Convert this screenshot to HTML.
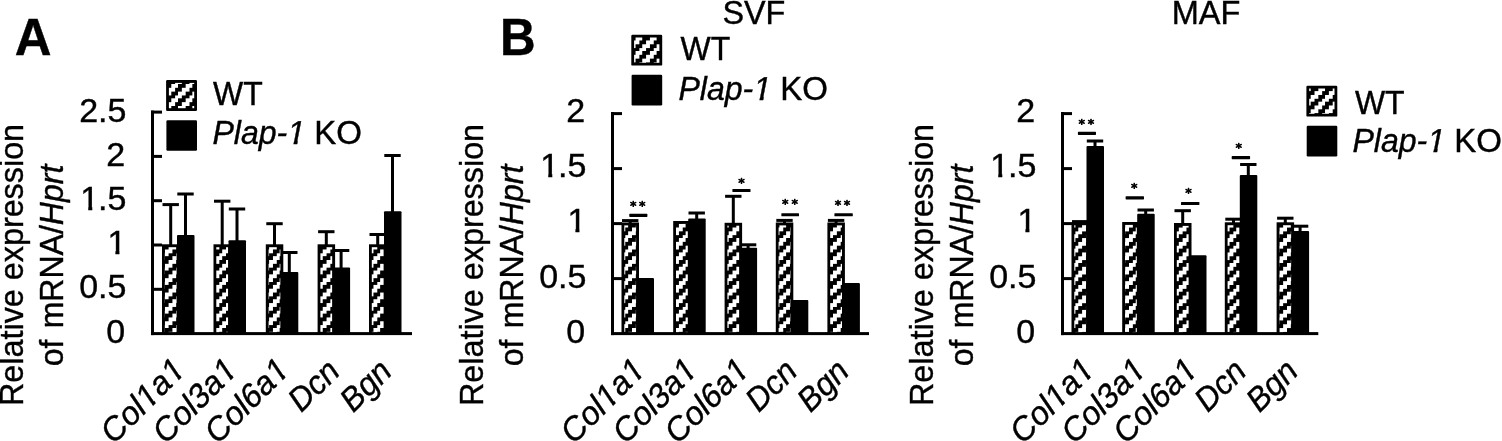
<!DOCTYPE html>
<html lang="en"><head><meta charset="utf-8"><title>Figure</title>
<style>
html,body{margin:0;padding:0;background:#fff;}
body{width:1502px;height:441px;overflow:hidden;}
svg{display:block;}
text{font-family:"Liberation Sans",Arial,Helvetica,sans-serif;fill:#000;stroke:#000;stroke-width:0.4px;}
text.st{font-family:"DejaVu Sans","Liberation Sans",sans-serif;stroke-width:0.75px;stroke-linejoin:round;}
</style></head><body>
<svg width="1502" height="441" viewBox="0 0 1502 441">
<defs>
<pattern id="hatch" patternUnits="userSpaceOnUse" width="14.36" height="14.36" x="10.63" y="1.52">
<rect width="14.36" height="14.36" fill="#000"/>
<g fill="#fff" shape-rendering="crispEdges">
<rect x="0" y="0" width="7.18" height="3.59"/>
<rect x="10.77" y="3.59" width="3.59" height="3.59"/><rect x="0" y="3.59" width="3.59" height="3.59"/>
<rect x="7.18" y="7.18" width="7.18" height="3.59"/>
<rect x="3.59" y="10.77" width="7.18" height="3.59"/>
</g>
</pattern>
<pattern id="hatchS" patternUnits="userSpaceOnUse" width="14.36" height="14.36" x="0.15" y="12.09">
<rect width="14.36" height="14.36" fill="#000"/>
<g fill="#fff" shape-rendering="crispEdges">
<rect x="0" y="0" width="7.18" height="3.59"/>
<rect x="10.77" y="3.59" width="3.59" height="3.59"/><rect x="0" y="3.59" width="3.59" height="3.59"/>
<rect x="7.18" y="7.18" width="7.18" height="3.59"/>
<rect x="3.59" y="10.77" width="7.18" height="3.59"/>
</g>
</pattern>
<pattern id="hatchM" patternUnits="userSpaceOnUse" width="14.36" height="14.36" x="5.11" y="8.34">
<rect width="14.36" height="14.36" fill="#000"/>
<g fill="#fff" shape-rendering="crispEdges">
<rect x="0" y="0" width="7.18" height="3.59"/>
<rect x="10.77" y="3.59" width="3.59" height="3.59"/><rect x="0" y="3.59" width="3.59" height="3.59"/>
<rect x="7.18" y="7.18" width="7.18" height="3.59"/>
<rect x="3.59" y="10.77" width="7.18" height="3.59"/>
</g>
</pattern>
<pattern id="hatchLA" patternUnits="userSpaceOnUse" width="14.36" height="14.36" x="9.51" y="1.64">
<rect width="14.36" height="14.36" fill="#000"/>
<g fill="#fff" shape-rendering="crispEdges">
<rect x="0" y="0" width="7.18" height="3.59"/>
<rect x="10.77" y="3.59" width="3.59" height="3.59"/><rect x="0" y="3.59" width="3.59" height="3.59"/>
<rect x="7.18" y="7.18" width="7.18" height="3.59"/>
<rect x="3.59" y="10.77" width="7.18" height="3.59"/>
</g>
</pattern>
<pattern id="hatchLS" patternUnits="userSpaceOnUse" width="14.36" height="14.36" x="14.24" y="11.73">
<rect width="14.36" height="14.36" fill="#000"/>
<g fill="#fff" shape-rendering="crispEdges">
<rect x="0" y="0" width="7.18" height="3.59"/>
<rect x="10.77" y="3.59" width="3.59" height="3.59"/><rect x="0" y="3.59" width="3.59" height="3.59"/>
<rect x="7.18" y="7.18" width="7.18" height="3.59"/>
<rect x="3.59" y="10.77" width="7.18" height="3.59"/>
</g>
</pattern>
<pattern id="hatchLM" patternUnits="userSpaceOnUse" width="14.36" height="14.36" x="7.75" y="4.96">
<rect width="14.36" height="14.36" fill="#000"/>
<g fill="#fff" shape-rendering="crispEdges">
<rect x="0" y="0" width="7.18" height="3.59"/>
<rect x="10.77" y="3.59" width="3.59" height="3.59"/><rect x="0" y="3.59" width="3.59" height="3.59"/>
<rect x="7.18" y="7.18" width="7.18" height="3.59"/>
<rect x="3.59" y="10.77" width="7.18" height="3.59"/>
</g>
</pattern>
<clipPath id="one" clipPathUnits="userSpaceOnUse"><path d="M-4 -40H30V-3.54H12.05V2H8.05V-3.54H-4Z"/></clipPath>
</defs>
<rect width="1502" height="441" fill="#fff"/>

<text transform="translate(14.70 55.00) scale(0.99 1)" font-size="51.4" font-weight="bold">A</text>
<text transform="translate(499.90 55.00) scale(0.96 1)" font-size="51.4" font-weight="bold">B</text>
<text transform="translate(753.90 24.00) scale(0.98 1)" font-size="33" text-anchor="middle">SVF</text>
<text transform="translate(1206.10 24.20) scale(0.985 1)" font-size="33" text-anchor="middle">MAF</text>
<rect x="151.00" y="110.60" width="3.00" height="224.50" fill="#000"/>
<rect x="151.00" y="332.10" width="261.00" height="3.00" fill="#000"/>
<g transform="translate(125.20 342.55)"><text transform="translate(-18.92 0)" font-size="34">0</text></g>
<rect x="151.00" y="287.80" width="11.00" height="3.00" fill="#000"/>
<g transform="translate(126.40 298.47)"><text transform="translate(-47.27 0)" font-size="34">0.5</text></g>
<rect x="151.00" y="243.50" width="11.00" height="3.00" fill="#000"/>
<g transform="translate(125.20 254.39)"><text transform="translate(-17.82 0)" font-size="34" clip-path="url(#one)">1</text></g>
<rect x="151.00" y="199.20" width="11.00" height="3.00" fill="#000"/>
<g transform="translate(126.40 210.31)"><text transform="translate(-46.18 0)" font-size="34" clip-path="url(#one)">1</text><text transform="translate(-28.36 0)" font-size="34">.5</text></g>
<rect x="151.00" y="154.90" width="11.00" height="3.00" fill="#000"/>
<g transform="translate(125.20 166.23)"><text transform="translate(-18.92 0)" font-size="34">2</text></g>
<rect x="151.00" y="110.60" width="11.00" height="3.00" fill="#000"/>
<g transform="translate(126.40 122.15)"><text transform="translate(-47.27 0)" font-size="34">2.5</text></g>
<text transform="translate(23.40 406.00) rotate(-90) scale(0.98 1)" font-size="33">Relative expression</text>
<text transform="translate(62.60 366.20) rotate(-90) scale(0.97 1)" font-size="33"><tspan word-spacing="2.4">of mRNA/</tspan><tspan font-style="italic">Hprt</tspan></text>
<rect x="169.20" y="204.60" width="3.00" height="40.70" fill="#000"/>
<rect x="162.50" y="203.10" width="16.40" height="3.00" fill="#000"/>
<rect x="184.00" y="194.00" width="3.00" height="42.00" fill="#000"/>
<rect x="177.30" y="192.50" width="16.40" height="3.00" fill="#000"/>
<rect x="162.00" y="244.30" width="17.50" height="89.30" fill="#000"/>
<rect x="164.80" y="247.20" width="11.80" height="84.90" fill="url(#hatch)"/>
<rect x="177.00" y="235.00" width="17.50" height="98.60" fill="#000" rx="1"/>
<rect x="220.70" y="201.20" width="3.00" height="44.10" fill="#000"/>
<rect x="214.00" y="199.70" width="16.40" height="3.00" fill="#000"/>
<rect x="235.50" y="209.00" width="3.00" height="32.20" fill="#000"/>
<rect x="228.80" y="207.50" width="16.40" height="3.00" fill="#000"/>
<rect x="213.50" y="244.30" width="17.50" height="89.30" fill="#000"/>
<rect x="216.30" y="247.20" width="11.80" height="84.90" fill="url(#hatch)"/>
<rect x="228.50" y="240.20" width="17.50" height="93.40" fill="#000" rx="1"/>
<rect x="273.00" y="223.70" width="3.00" height="21.60" fill="#000"/>
<rect x="266.30" y="222.20" width="16.40" height="3.00" fill="#000"/>
<rect x="287.80" y="252.50" width="3.00" height="20.50" fill="#000"/>
<rect x="281.10" y="251.00" width="16.40" height="3.00" fill="#000"/>
<rect x="265.80" y="244.30" width="17.50" height="89.30" fill="#000"/>
<rect x="268.60" y="247.20" width="11.80" height="84.90" fill="url(#hatch)"/>
<rect x="280.80" y="272.00" width="17.50" height="61.60" fill="#000" rx="1"/>
<rect x="324.80" y="231.70" width="3.00" height="13.60" fill="#000"/>
<rect x="318.10" y="230.20" width="16.40" height="3.00" fill="#000"/>
<rect x="339.60" y="250.50" width="3.00" height="18.00" fill="#000"/>
<rect x="332.90" y="249.00" width="16.40" height="3.00" fill="#000"/>
<rect x="317.60" y="244.30" width="17.50" height="89.30" fill="#000"/>
<rect x="320.40" y="247.20" width="11.80" height="84.90" fill="url(#hatch)"/>
<rect x="332.60" y="267.50" width="17.50" height="66.10" fill="#000" rx="1"/>
<rect x="376.20" y="234.50" width="3.00" height="10.80" fill="#000"/>
<rect x="369.50" y="233.00" width="16.40" height="3.00" fill="#000"/>
<rect x="391.00" y="155.50" width="3.00" height="56.80" fill="#000"/>
<rect x="384.30" y="154.00" width="16.40" height="3.00" fill="#000"/>
<rect x="369.00" y="244.30" width="17.50" height="89.30" fill="#000"/>
<rect x="371.80" y="247.20" width="11.80" height="84.90" fill="url(#hatch)"/>
<rect x="384.00" y="211.30" width="17.50" height="122.30" fill="#000" rx="1"/>
<g transform="translate(187.00 371.70) rotate(-45)"><text transform="translate(-103.56 0) scale(0.99 1)" font-size="33" font-style="italic">Col</text><text transform="translate(-56.13 0) skewX(-11) scale(0.99 1)" font-size="33" clip-path="url(#one)">1</text><text transform="translate(-36.35 0) scale(0.99 1)" font-size="33" font-style="italic">a</text><text transform="translate(-19.78 0) skewX(-11) scale(0.99 1)" font-size="33" clip-path="url(#one)">1</text></g>
<g transform="translate(239.00 371.70) rotate(-45)"><text transform="translate(-103.56 0) scale(0.99 1)" font-size="33" font-style="italic">Col</text><text transform="translate(-56.13 0) skewX(-11) scale(0.99 1)" font-size="33">3</text><text transform="translate(-36.35 0) scale(0.99 1)" font-size="33" font-style="italic">a</text><text transform="translate(-19.78 0) skewX(-11) scale(0.99 1)" font-size="33" clip-path="url(#one)">1</text></g>
<g transform="translate(291.00 371.70) rotate(-45)"><text transform="translate(-103.56 0) scale(0.99 1)" font-size="33" font-style="italic">Col</text><text transform="translate(-56.13 0) skewX(-11) scale(0.99 1)" font-size="33">6</text><text transform="translate(-36.35 0) scale(0.99 1)" font-size="33" font-style="italic">a</text><text transform="translate(-19.78 0) skewX(-11) scale(0.99 1)" font-size="33" clip-path="url(#one)">1</text></g>
<g transform="translate(341.60 373.10) rotate(-45)"><text transform="translate(-56.93 0) scale(0.97 1)" font-size="33" font-style="italic">Dcn</text></g>
<g transform="translate(393.60 373.10) rotate(-45)"><text transform="translate(-56.96 0) scale(0.97 1)" font-size="33" font-style="italic">Bgn</text></g>
<rect x="166.10" y="80.10" width="30.90" height="30.90" fill="#000" rx="1.2"/>
<rect x="168.90" y="82.90" width="25.30" height="25.30" fill="url(#hatchLA)"/>
<rect x="166.40" y="120.20" width="30.60" height="30.60" fill="#000" rx="1.2"/>
<text transform="translate(213.00 104.60) scale(0.97 1)" font-size="33">WT</text>
<g transform="translate(212.50 144.00)"><text transform="translate(0.00 0) scale(0.97 1)" font-size="33" font-style="italic">Plap-</text><text transform="translate(73.13 0) skewX(-11) scale(0.97 1)" font-size="33" clip-path="url(#one)">1</text><text transform="translate(92.54 0)" font-size="33" style="white-space:pre"> KO</text></g>
<rect x="611.00" y="112.10" width="3.00" height="223.00" fill="#000"/>
<rect x="611.00" y="332.10" width="258.00" height="3.00" fill="#000"/>
<g transform="translate(585.20 342.55)"><text transform="translate(-18.92 0)" font-size="34">0</text></g>
<rect x="611.00" y="277.10" width="11.00" height="3.00" fill="#000"/>
<g transform="translate(586.40 287.50)"><text transform="translate(-47.27 0)" font-size="34">0.5</text></g>
<rect x="611.00" y="222.10" width="11.00" height="3.00" fill="#000"/>
<g transform="translate(585.20 232.45)"><text transform="translate(-17.82 0)" font-size="34" clip-path="url(#one)">1</text></g>
<rect x="611.00" y="167.10" width="11.00" height="3.00" fill="#000"/>
<g transform="translate(586.40 177.40)"><text transform="translate(-46.18 0)" font-size="34" clip-path="url(#one)">1</text><text transform="translate(-28.36 0)" font-size="34">.5</text></g>
<rect x="611.00" y="112.10" width="11.00" height="3.00" fill="#000"/>
<g transform="translate(585.20 122.35)"><text transform="translate(-18.92 0)" font-size="34">2</text></g>
<text transform="translate(483.40 406.00) rotate(-90) scale(0.98 1)" font-size="33">Relative expression</text>
<text transform="translate(522.60 366.20) rotate(-90) scale(0.97 1)" font-size="33"><tspan word-spacing="2.4">of mRNA/</tspan><tspan font-style="italic">Hprt</tspan></text>
<rect x="628.70" y="220.60" width="3.00" height="2.90" fill="#000"/>
<rect x="622.00" y="219.10" width="16.40" height="3.00" fill="#000"/>
<rect x="621.50" y="222.50" width="17.50" height="111.10" fill="#000"/>
<rect x="624.30" y="225.40" width="11.80" height="106.70" fill="url(#hatchS)"/>
<rect x="636.50" y="278.00" width="17.50" height="55.60" fill="#000" rx="1"/>
<rect x="629.30" y="213.80" width="18.10" height="3.10" fill="#000" rx="0.6"/>
<g font-size="13" text-anchor="middle"><text class="st" x="633.35" y="210.08">*</text><text class="st" x="642.30" y="210.08">*</text></g>
<rect x="695.20" y="213.00" width="3.00" height="6.60" fill="#000"/>
<rect x="688.50" y="211.50" width="16.40" height="3.00" fill="#000"/>
<rect x="673.20" y="221.00" width="17.50" height="112.60" fill="#000"/>
<rect x="676.00" y="223.90" width="11.80" height="108.20" fill="url(#hatchS)"/>
<rect x="688.20" y="218.60" width="17.50" height="115.00" fill="#000" rx="1"/>
<rect x="731.80" y="196.30" width="3.00" height="27.50" fill="#000"/>
<rect x="725.10" y="194.80" width="16.40" height="3.00" fill="#000"/>
<rect x="746.60" y="244.80" width="3.00" height="4.00" fill="#000"/>
<rect x="739.90" y="243.30" width="16.40" height="3.00" fill="#000"/>
<rect x="724.60" y="222.80" width="17.50" height="110.80" fill="#000"/>
<rect x="727.40" y="225.70" width="11.80" height="106.40" fill="url(#hatchS)"/>
<rect x="739.60" y="247.80" width="17.50" height="85.80" fill="#000" rx="1"/>
<rect x="732.40" y="189.00" width="18.10" height="3.10" fill="#000" rx="0.6"/>
<g font-size="13" text-anchor="middle"><text class="st" x="741.45" y="186.93">*</text></g>
<rect x="783.00" y="220.40" width="3.00" height="3.10" fill="#000"/>
<rect x="776.30" y="218.90" width="16.40" height="3.00" fill="#000"/>
<rect x="775.80" y="222.50" width="17.50" height="111.10" fill="#000"/>
<rect x="778.60" y="225.40" width="11.80" height="106.70" fill="url(#hatchS)"/>
<rect x="790.80" y="300.00" width="17.50" height="33.60" fill="#000" rx="1"/>
<rect x="781.35" y="213.15" width="17.65" height="3.10" fill="#000" rx="0.6"/>
<g font-size="13" text-anchor="middle"><text class="st" x="785.30" y="207.68">*</text><text class="st" x="794.65" y="207.68">*</text></g>
<rect x="834.60" y="220.40" width="3.00" height="3.10" fill="#000"/>
<rect x="827.90" y="218.90" width="16.40" height="3.00" fill="#000"/>
<rect x="827.40" y="222.50" width="17.50" height="111.10" fill="#000"/>
<rect x="830.20" y="225.40" width="11.80" height="106.70" fill="url(#hatchS)"/>
<rect x="842.40" y="283.00" width="17.50" height="50.60" fill="#000" rx="1"/>
<rect x="834.40" y="213.15" width="18.40" height="3.10" fill="#000" rx="0.6"/>
<g font-size="13" text-anchor="middle"><text class="st" x="838.00" y="209.28">*</text><text class="st" x="847.10" y="209.28">*</text></g>
<g transform="translate(647.00 371.70) rotate(-45)"><text transform="translate(-103.56 0) scale(0.99 1)" font-size="33" font-style="italic">Col</text><text transform="translate(-56.13 0) skewX(-11) scale(0.99 1)" font-size="33" clip-path="url(#one)">1</text><text transform="translate(-36.35 0) scale(0.99 1)" font-size="33" font-style="italic">a</text><text transform="translate(-19.78 0) skewX(-11) scale(0.99 1)" font-size="33" clip-path="url(#one)">1</text></g>
<g transform="translate(699.00 371.70) rotate(-45)"><text transform="translate(-103.56 0) scale(0.99 1)" font-size="33" font-style="italic">Col</text><text transform="translate(-56.13 0) skewX(-11) scale(0.99 1)" font-size="33">3</text><text transform="translate(-36.35 0) scale(0.99 1)" font-size="33" font-style="italic">a</text><text transform="translate(-19.78 0) skewX(-11) scale(0.99 1)" font-size="33" clip-path="url(#one)">1</text></g>
<g transform="translate(751.00 371.70) rotate(-45)"><text transform="translate(-103.56 0) scale(0.99 1)" font-size="33" font-style="italic">Col</text><text transform="translate(-56.13 0) skewX(-11) scale(0.99 1)" font-size="33">6</text><text transform="translate(-36.35 0) scale(0.99 1)" font-size="33" font-style="italic">a</text><text transform="translate(-19.78 0) skewX(-11) scale(0.99 1)" font-size="33" clip-path="url(#one)">1</text></g>
<g transform="translate(799.10 373.10) rotate(-45)"><text transform="translate(-56.93 0) scale(0.97 1)" font-size="33" font-style="italic">Dcn</text></g>
<g transform="translate(850.90 373.10) rotate(-45)"><text transform="translate(-56.96 0) scale(0.97 1)" font-size="33" font-style="italic">Bgn</text></g>
<rect x="631.30" y="34.70" width="30.90" height="30.90" fill="#000" rx="1.2"/>
<rect x="634.10" y="37.50" width="25.30" height="25.30" fill="url(#hatchLS)"/>
<rect x="631.60" y="74.80" width="30.60" height="30.60" fill="#000" rx="1.2"/>
<text transform="translate(680.50 60.35) scale(0.97 1)" font-size="33">WT</text>
<g transform="translate(678.50 99.95)"><text transform="translate(0.00 0) scale(0.97 1)" font-size="33" font-style="italic">Plap-</text><text transform="translate(73.13 0) skewX(-11) scale(0.97 1)" font-size="33" clip-path="url(#one)">1</text><text transform="translate(92.54 0)" font-size="33" style="white-space:pre"> KO</text></g>
<rect x="1061.00" y="112.10" width="3.00" height="223.00" fill="#000"/>
<rect x="1061.00" y="332.10" width="257.30" height="3.00" fill="#000"/>
<g transform="translate(1035.20 342.55)"><text transform="translate(-18.92 0)" font-size="34">0</text></g>
<rect x="1061.00" y="277.10" width="11.00" height="3.00" fill="#000"/>
<g transform="translate(1036.40 287.50)"><text transform="translate(-47.27 0)" font-size="34">0.5</text></g>
<rect x="1061.00" y="222.10" width="11.00" height="3.00" fill="#000"/>
<g transform="translate(1035.20 232.45)"><text transform="translate(-17.82 0)" font-size="34" clip-path="url(#one)">1</text></g>
<rect x="1061.00" y="167.10" width="11.00" height="3.00" fill="#000"/>
<g transform="translate(1036.40 177.40)"><text transform="translate(-46.18 0)" font-size="34" clip-path="url(#one)">1</text><text transform="translate(-28.36 0)" font-size="34">.5</text></g>
<rect x="1061.00" y="112.10" width="11.00" height="3.00" fill="#000"/>
<g transform="translate(1035.20 122.35)"><text transform="translate(-18.92 0)" font-size="34">2</text></g>
<text transform="translate(933.40 406.00) rotate(-90) scale(0.98 1)" font-size="33">Relative expression</text>
<text transform="translate(972.60 366.20) rotate(-90) scale(0.97 1)" font-size="33"><tspan word-spacing="2.4">of mRNA/</tspan><tspan font-style="italic">Hprt</tspan></text>
<rect x="1078.70" y="221.60" width="3.00" height="1.70" fill="#000"/>
<rect x="1072.00" y="220.10" width="16.40" height="3.00" fill="#000"/>
<rect x="1093.50" y="141.00" width="3.00" height="6.00" fill="#000"/>
<rect x="1086.80" y="139.50" width="16.40" height="3.00" fill="#000"/>
<rect x="1071.50" y="222.30" width="17.50" height="111.30" fill="#000"/>
<rect x="1074.30" y="225.20" width="11.80" height="106.90" fill="url(#hatchM)"/>
<rect x="1086.50" y="146.00" width="17.50" height="187.60" fill="#000" rx="1"/>
<rect x="1077.90" y="131.85" width="18.10" height="3.10" fill="#000" rx="0.6"/>
<g font-size="13" text-anchor="middle"><text class="st" x="1081.70" y="128.08">*</text><text class="st" x="1090.90" y="128.08">*</text></g>
<rect x="1144.20" y="210.00" width="3.00" height="4.70" fill="#000"/>
<rect x="1137.50" y="208.50" width="16.40" height="3.00" fill="#000"/>
<rect x="1122.20" y="222.00" width="17.50" height="111.60" fill="#000"/>
<rect x="1125.00" y="224.90" width="11.80" height="107.20" fill="url(#hatchM)"/>
<rect x="1137.20" y="213.70" width="17.50" height="119.90" fill="#000" rx="1"/>
<rect x="1125.60" y="196.35" width="18.40" height="3.10" fill="#000" rx="0.6"/>
<g font-size="13" text-anchor="middle"><text class="st" x="1134.30" y="192.28">*</text></g>
<rect x="1181.20" y="210.70" width="3.00" height="13.30" fill="#000"/>
<rect x="1174.50" y="209.20" width="16.40" height="3.00" fill="#000"/>
<rect x="1174.00" y="223.00" width="17.50" height="110.60" fill="#000"/>
<rect x="1176.80" y="225.90" width="11.80" height="106.20" fill="url(#hatchM)"/>
<rect x="1189.00" y="255.20" width="17.50" height="78.40" fill="#000" rx="1"/>
<rect x="1181.00" y="201.95" width="18.40" height="3.10" fill="#000" rx="0.6"/>
<g font-size="13" text-anchor="middle"><text class="st" x="1188.60" y="197.28">*</text></g>
<rect x="1232.00" y="219.20" width="3.00" height="4.10" fill="#000"/>
<rect x="1225.30" y="217.70" width="16.40" height="3.00" fill="#000"/>
<rect x="1246.80" y="164.50" width="3.00" height="11.50" fill="#000"/>
<rect x="1240.10" y="163.00" width="16.40" height="3.00" fill="#000"/>
<rect x="1224.80" y="222.30" width="17.50" height="111.30" fill="#000"/>
<rect x="1227.60" y="225.20" width="11.80" height="106.90" fill="url(#hatchM)"/>
<rect x="1239.80" y="175.00" width="17.50" height="158.60" fill="#000" rx="1"/>
<rect x="1231.70" y="156.05" width="18.40" height="3.10" fill="#000" rx="0.6"/>
<g font-size="13" text-anchor="middle"><text class="st" x="1238.70" y="152.28">*</text></g>
<rect x="1283.80" y="218.20" width="3.00" height="5.10" fill="#000"/>
<rect x="1277.10" y="216.70" width="16.40" height="3.00" fill="#000"/>
<rect x="1298.60" y="226.20" width="3.00" height="5.80" fill="#000"/>
<rect x="1291.90" y="224.70" width="16.40" height="3.00" fill="#000"/>
<rect x="1276.60" y="222.30" width="17.50" height="111.30" fill="#000"/>
<rect x="1279.40" y="225.20" width="11.80" height="106.90" fill="url(#hatchM)"/>
<rect x="1291.60" y="231.00" width="17.50" height="102.60" fill="#000" rx="1"/>
<g transform="translate(1096.30 371.70) rotate(-45)"><text transform="translate(-103.56 0) scale(0.99 1)" font-size="33" font-style="italic">Col</text><text transform="translate(-56.13 0) skewX(-11) scale(0.99 1)" font-size="33" clip-path="url(#one)">1</text><text transform="translate(-36.35 0) scale(0.99 1)" font-size="33" font-style="italic">a</text><text transform="translate(-19.78 0) skewX(-11) scale(0.99 1)" font-size="33" clip-path="url(#one)">1</text></g>
<g transform="translate(1147.80 371.70) rotate(-45)"><text transform="translate(-103.56 0) scale(0.99 1)" font-size="33" font-style="italic">Col</text><text transform="translate(-56.13 0) skewX(-11) scale(0.99 1)" font-size="33">3</text><text transform="translate(-36.35 0) scale(0.99 1)" font-size="33" font-style="italic">a</text><text transform="translate(-19.78 0) skewX(-11) scale(0.99 1)" font-size="33" clip-path="url(#one)">1</text></g>
<g transform="translate(1199.50 371.70) rotate(-45)"><text transform="translate(-103.56 0) scale(0.99 1)" font-size="33" font-style="italic">Col</text><text transform="translate(-56.13 0) skewX(-11) scale(0.99 1)" font-size="33">6</text><text transform="translate(-36.35 0) scale(0.99 1)" font-size="33" font-style="italic">a</text><text transform="translate(-19.78 0) skewX(-11) scale(0.99 1)" font-size="33" clip-path="url(#one)">1</text></g>
<g transform="translate(1248.10 373.10) rotate(-45)"><text transform="translate(-56.93 0) scale(0.97 1)" font-size="33" font-style="italic">Dcn</text></g>
<g transform="translate(1299.80 373.10) rotate(-45)"><text transform="translate(-56.96 0) scale(0.97 1)" font-size="33" font-style="italic">Bgn</text></g>
<rect x="1306.40" y="85.70" width="30.90" height="30.90" fill="#000" rx="1.2"/>
<rect x="1309.20" y="88.50" width="25.30" height="25.30" fill="url(#hatchLM)"/>
<rect x="1306.70" y="125.80" width="30.60" height="30.60" fill="#000" rx="1.2"/>
<text transform="translate(1354.90 114.10) scale(0.97 1)" font-size="33">WT</text>
<g transform="translate(1352.50 151.50)"><text transform="translate(0.00 0) scale(0.97 1)" font-size="33" font-style="italic">Plap-</text><text transform="translate(73.13 0) skewX(-11) scale(0.97 1)" font-size="33" clip-path="url(#one)">1</text><text transform="translate(92.54 0)" font-size="33" style="white-space:pre"> KO</text></g>
</svg>
</body></html>
